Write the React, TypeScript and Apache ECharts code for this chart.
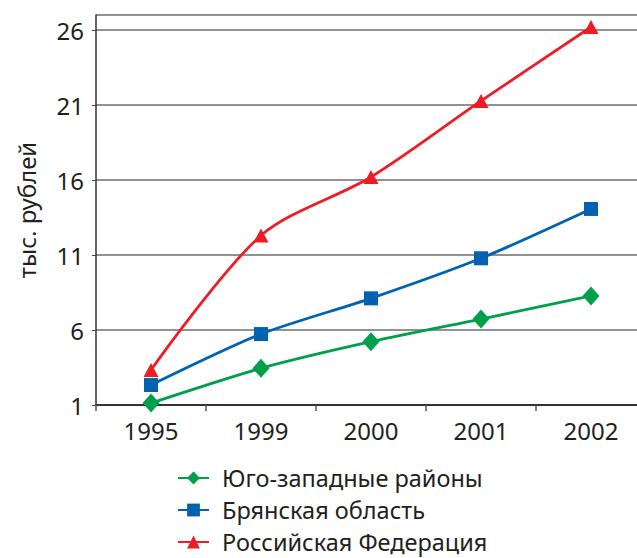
import React, { useEffect, useRef } from "react";
import * as echarts from "echarts";

const categories = ["1995", "1999", "2000", "2001", "2002"];
const seriesNames = ["Юго-западные районы", "Брянская область", "Российская Федерация"];
const southWest = [1.13, 3.45, 5.22, 6.73, 8.27];
const bryansk = [2.33, 5.73, 8.11, 10.78, 14.07];
const russia = [3.33, 12.3, 16.2, 21.27, 26.2];
const yTitle = "тыс. рублей";

const FONT = "'Noto Sans', sans-serif";

export default function App() {
  const ref = useRef<HTMLDivElement>(null);
  useEffect(() => {
    if (!ref.current) return;
    const chart = echarts.init(ref.current, null, { renderer: "svg" });
    chart.setOption({
      animation: false,
      backgroundColor: "#ffffff",
      textStyle: { fontFamily: FONT },
      grid: { left: 96, top: 15, width: 550, height: 390, containLabel: false },
      legend: {
        orient: "vertical",
        left: 177,
        top: 466,
        padding: 0,
        itemWidth: 31,
        itemHeight: 16,
        itemGap: 8,
        textStyle: {
          fontSize: 23.5,
          color: "#231f20",
          fontFamily: FONT,
          lineHeight: 24,
          padding: [0, 0, 0, 8],
        },
        data: seriesNames,
      },
      xAxis: {
        type: "category",
        data: categories,
        boundaryGap: true,
        axisLine: { lineStyle: { color: "#333333", width: 2 } },
        axisTick: { show: true, length: 6, lineStyle: { color: "#555555", width: 1.5 } },
        axisLabel: { fontSize: 24, color: "#231f20", margin: 13, fontFamily: FONT },
        splitLine: { show: false },
      },
      yAxis: {
        type: "value",
        min: 1,
        max: 27,
        interval: 5,
        name: yTitle,
        nameLocation: "middle",
        nameRotate: 90,
        nameGap: 58,
        nameTextStyle: { fontSize: 24, color: "#231f20", fontFamily: FONT },
        axisLine: { show: true, lineStyle: { color: "#333333", width: 1.5 } },
        axisTick: { show: true, length: 4, lineStyle: { color: "#444444" } },
        axisLabel: { fontSize: 24, color: "#231f20", margin: 12, showMaxLabel: false, fontFamily: FONT },
        splitLine: { show: true, lineStyle: { color: "#6d6d6d", width: 1.5 } },
      },
      series: [
        {
          name: seriesNames[0],
          type: "line",
          data: southWest,
          smooth: 0.25,
          symbol: "diamond",
          symbolSize: [17, 19],
          itemStyle: { color: "#00a04b" },
          lineStyle: { color: "#00a04b", width: 2.8 },
          z: 3,
        },
        {
          name: seriesNames[1],
          type: "line",
          data: bryansk,
          smooth: 0.25,
          symbol: "rect",
          symbolSize: 14,
          itemStyle: { color: "#0062b1" },
          lineStyle: { color: "#0062b1", width: 2.8 },
          z: 4,
        },
        {
          name: seriesNames[2],
          type: "line",
          data: russia,
          smooth: 0.3,
          symbol: "triangle",
          symbolSize: [15, 14],
          itemStyle: { color: "#ee1c25" },
          lineStyle: { color: "#ee1c25", width: 2.8 },
          z: 5,
        },
      ],
    });
    return () => chart.dispose();
  }, []);
  return (
    <div
      style={{
        position: "fixed",
        left: 0,
        top: 0,
        width: 637,
        height: 558,
        overflow: "hidden",
        background: "#ffffff",
      }}
    >
      <div ref={ref} style={{ width: 660, height: 558 }} />
    </div>
  );
}
